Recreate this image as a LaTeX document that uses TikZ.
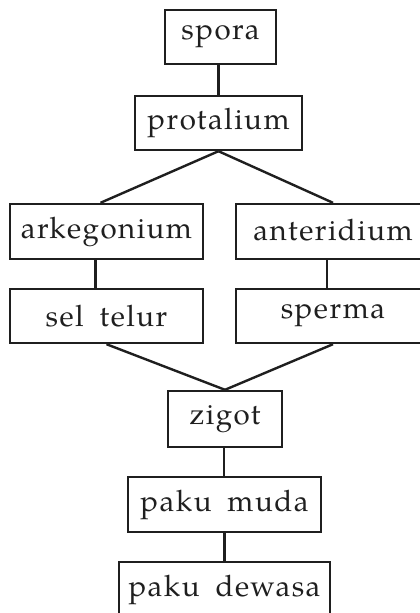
\documentclass[tikz,border=0pt]{standalone}
\usepackage{fontspec}
\setmainfont{TeX Gyre Pagella}[LetterSpace=5,WordSpace=1.8]
\begin{document}
\begin{tikzpicture}[x=1pt,y=-1pt,
  box/.style={draw=black!88, line width=2.4pt, rectangle, inner sep=0pt,
    font=\fontsize{29.5}{31}\selectfont, text=black!88},
  conn/.style={draw=black!88, line width=2.4pt}]
\useasboundingbox (0,0) rectangle (420,613);
\node[box, minimum width=111pt, minimum height=54pt] (spora) at (220.5,37) {spora};
\node[box, minimum width=167pt, minimum height=54pt] (prot) at (218.5,123) {protalium};
\node[box, minimum width=193pt, minimum height=55pt] (ark) at (106.5,231.5) {arkegonium};
\node[box, minimum width=194pt, minimum height=55pt] (ant) at (333,231.5) {\raisebox{3pt}{anteridium}};
\node[box, minimum width=193pt, minimum height=54pt] (sel) at (106.5,316) {sel telur};
\node[box, minimum width=194pt, minimum height=54pt] (sperma) at (333,316) {\raisebox{6pt}{sperma}};
\node[box, minimum width=114pt, minimum height=56pt] (zigot) at (225,419) {zigot};
\node[box, minimum width=193pt, minimum height=55pt] (muda) at (224.5,504.5) {paku muda};
\node[box, minimum width=211pt, minimum height=56pt] (dewasa) at (224.5,590) {paku dewasa};
\draw[conn] (prot.north) -- (prot.north |- spora.south);
\draw[conn] (prot.south) -- ([xshift=-6pt]ark.north);
\draw[conn] (prot.south) -- (ant.north);
\draw[conn] ([xshift=-11pt]ark.south) -- ([xshift=-11pt]sel.north);
\draw[conn] ([xshift=-6pt]ant.south) -- ([xshift=-6pt]sperma.north);
\draw[conn] (sel.south) -- (zigot.north);
\draw[conn] (sperma.south) -- (zigot.north);
\draw[conn] ([xshift=-1pt]zigot.south) -- ([xshift=-1pt]zigot.south |- muda.north);
\draw[conn] (muda.south) -- (dewasa.north);
\end{tikzpicture}
\end{document}
